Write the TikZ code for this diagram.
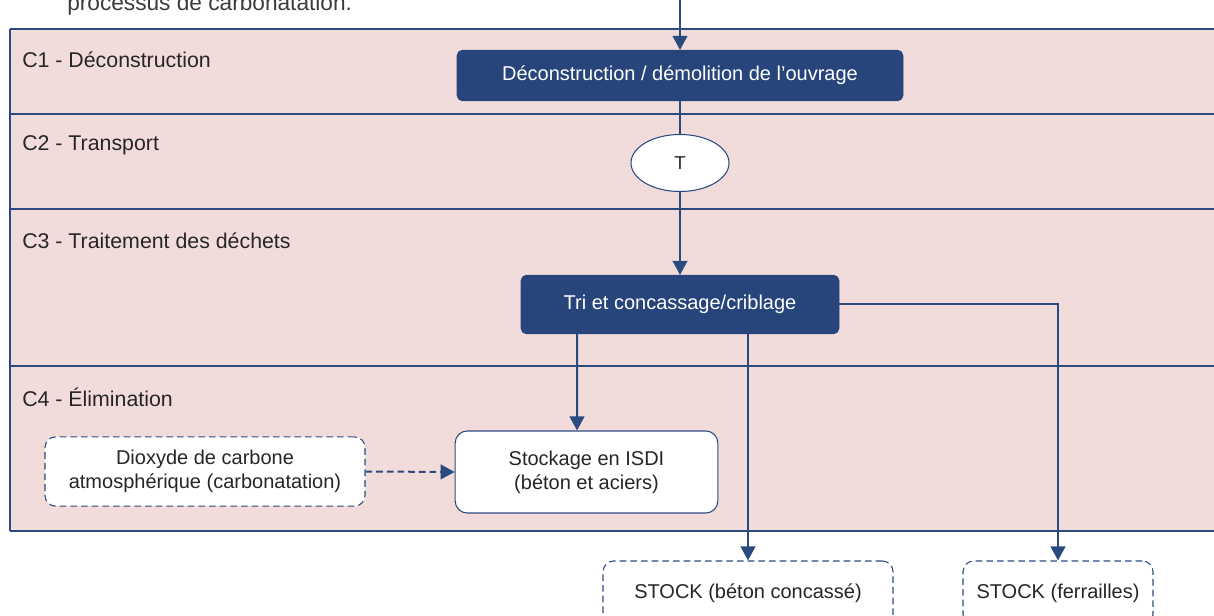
\documentclass[tikz,border=0pt]{standalone}
\usepackage{fontspec}
\setmainfont{Liberation Sans}
\usetikzlibrary{arrows.meta,shapes.geometric,positioning}

\definecolor{lanepink}{HTML}{F2DCDB}
\definecolor{boxblue}{HTML}{27457A}
\definecolor{lineblue}{HTML}{2B4A80}
\definecolor{txtgray}{HTML}{262626}

\begin{document}
\begin{tikzpicture}[
  x=0.75pt,
  y=-0.75pt
]

  \tikzstyle{lanelab}=[anchor=west,inner sep=0pt,text=txtgray,font=\fontsize{16}{19}\selectfont]
  \tikzstyle{darkbox}=[draw=boxblue,fill=boxblue,rectangle,rounded corners=4pt,text=white,font=\fontsize{15}{18}\selectfont]
  \tikzstyle{whitebox}=[draw=lineblue,fill=white,thick,rectangle,rounded corners=9pt,text=txtgray,align=center,font=\fontsize{15}{18}\selectfont]
  \tikzstyle{dashbox}=[whitebox,dashed,dash pattern=on 5pt off 3pt,rounded corners=8pt]
  \tikzstyle{transnode}=[draw=lineblue,fill=white,thick,ellipse,minimum width=73.5pt,minimum height=42.75pt,inner sep=0pt,text=txtgray,font=\fontsize{14}{17}\selectfont]

  \tikzstyle{pointer}=[draw=lineblue,line width=1.5pt,-{Triangle[width=11pt,length=10.5pt]}]
  \tikzstyle{link}=[draw=lineblue,line width=1.5pt]

  \useasboundingbox (0,0) rectangle (1214,616);

  % lanes
  \fill[lanepink] (10,29) rectangle (1220,531);
  \draw[lineblue,line width=1pt] (10,29) -- (1220,29);
  \draw[lineblue,line width=1pt] (10,114) -- (1220,114);
  \draw[lineblue,line width=1pt] (10,209) -- (1220,209);
  \draw[lineblue,line width=1.3pt] (10,366) -- (1220,366);
  \draw[lineblue,line width=1.6pt] (10,531) -- (1220,531);
  \draw[lineblue,line width=1.3pt] (10,29) -- (10,531);

  \node[anchor=base west,inner sep=0pt,text=txtgray!90,font=\fontsize{17}{20}\selectfont] (intro) at (67,11) {processus de carbonatation.};

  \node[lanelab] (c1) at (22,60) {C1 - Déconstruction};
  \node[lanelab] (c2) at (22,145) {C2 - Transport};
  \node[lanelab] (c3) at (22,241) {C3 - Traitement des déchets};
  \node[lanelab] (c4) at (22,397) {C4 - Élimination};

  % nodes
  \coordinate (entry) at (680,-5);
  \node[darkbox,minimum width=334.5pt,minimum height=38pt] (demol) at (680,75.5) {Déconstruction / démolition de l’ouvrage};
  \node[transnode] (trans) at (680,163) {T};
  \node[darkbox,minimum width=238.5pt,minimum height=44pt] (tri) at (680,304.5) {Tri et concassage/criblage};

  \node[whitebox,minimum width=197pt,minimum height=61.5pt] (isdi) at (586.5,472) {Stockage en ISDI\\(béton et aciers)};
  \node[dashbox,minimum width=240pt,minimum height=52pt] (co2) at (205,471.5) {Dioxyde de carbone\\atmosphérique (carbonatation)};

  \node[dashbox,minimum width=217.5pt,minimum height=48pt] (beton) at (748,593) {STOCK (béton concassé)};
  \node[dashbox,minimum width=142.5pt,minimum height=48pt] (ferr) at (1058,593) {STOCK (ferrailles)};

  % pointers
  \draw[pointer] (entry) -- (demol.north);
  \draw[link]    (demol.south) -- (trans.north);
  \draw[pointer] (trans.south) -- (tri.north);
  \draw[pointer] ([xshift=-77.25pt]tri.south) -- ([xshift=-7.1pt]isdi.north);
  \draw[pointer] (tri.south -| beton.north) -- (beton.north);
  \draw[pointer] (tri.east) -| (ferr.north);
  \draw[pointer,dashed,dash pattern=on 5pt off 3pt] (co2.east) -- (isdi.west);

\end{tikzpicture}
\end{document}
